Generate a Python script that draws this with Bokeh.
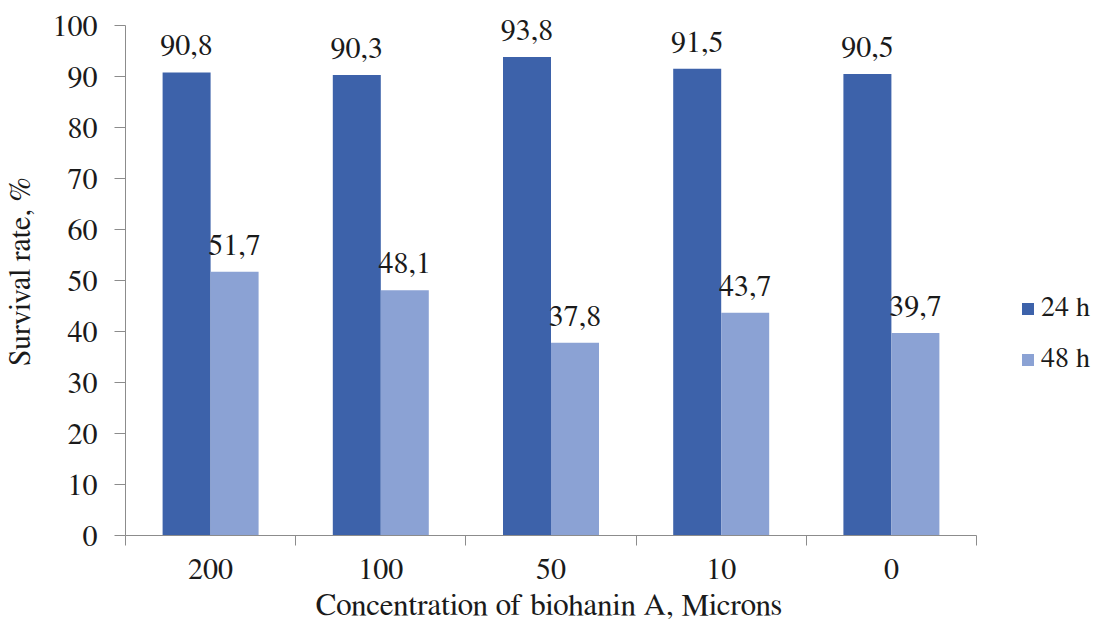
from bokeh.plotting import figure
from bokeh.models import (ColumnDataSource, FixedTicker, Legend, LegendItem,
                          Range1d, Title)
from bokeh.core.properties import value
from bokeh.transform import dodge
from bokeh.embed import file_html
from bokeh.resources import INLINE

# Survival rate after treatment with biohanin A
concentrations = ["200", "100", "50", "10", "0"]
survival_24h = [90.8, 90.3, 93.8, 91.5, 90.5]
survival_48h = [51.7, 48.1, 37.8, 43.7, 39.7]
y_ticks = [0, 10, 20, 30, 40, 50, 60, 70, 80, 90, 100]

DARK = "#3D62AA"
LIGHT = "#8BA2D4"
AXIS = "#8C8C8C"
INK = "#1a1a1a"
FONT = "FreeSerif"
FS = "30px"

n = len(concentrations)
pos = [i + 0.5 for i in range(n)]
src = ColumnDataSource(dict(
    x=pos,
    h24=survival_24h,
    h48=survival_48h,
    t24=[f"{v:.1f}".replace(".", ",") for v in survival_24h],
    t48=[f"{v:.1f}".replace(".", ",") for v in survival_48h],
))

# the frame runs to the right and top edges so the legend and the value
# labels fit inside it; both axes are bounded to the data span
LEFT, AXIS_W, FRAME_W = 125, 851, 978
AXIS_H, FRAME_H = 510, 535
p = figure(width=1103, height=635, output_backend="svg", toolbar_location=None,
           x_range=Range1d(0, n * FRAME_W / AXIS_W),
           y_range=Range1d(0, 100 * FRAME_H / AXIS_H),
           min_border_left=LEFT, min_border_right=0,
           min_border_top=0, min_border_bottom=100)
p.outline_line_color = None
p.grid.visible = False
p.background_fill_color = "white"
p.border_fill_color = "white"

bw = 0.282
r24 = p.vbar(x=dodge("x", -bw / 2), top="h24", width=bw, bottom=0, source=src,
             fill_color=DARK, line_color=None)
r48 = p.vbar(x=dodge("x", bw / 2), top="h48", width=bw, bottom=0, source=src,
             fill_color=LIGHT, line_color=None)

# value labels above the bars
for col, txt, off in (("h24", "t24", -bw / 2), ("h48", "t48", bw / 2)):
    p.text(x=dodge("x", off), y=col, text=txt, source=src,
           text_align="center", text_baseline="alphabetic", y_offset=-27,
           text_font=value(FONT), text_font_size=FS, text_color=INK)

# x axis: labels at category centres, ticks between categories
xa = p.xaxis[0]
xa.bounds = (0, n)
xa.ticker = FixedTicker(ticks=pos, minor_ticks=list(range(n + 1)))
xa.major_label_overrides = {v: c for v, c in zip(pos, concentrations)}
xa.major_tick_out = 0
xa.major_tick_in = 0
xa.minor_tick_out = 10
xa.minor_tick_in = 0
xa.minor_tick_line_color = AXIS
xa.axis_line_color = AXIS
xa.major_label_standoff = 13
xa.major_label_text_font = FONT
xa.major_label_text_font_size = FS
xa.major_label_text_color = INK

# x axis title, centred under the category span
p.add_layout(Title(text="Concentration  of biohanin  A, Microns",
                   align="left", offset=190, standoff=12,
                   text_font=FONT, text_font_size="31px",
                   text_font_style="normal", text_color=INK), "below")

ya = p.yaxis[0]
ya.bounds = (0, 100)
ya.ticker = FixedTicker(ticks=y_ticks)
ya.minor_tick_line_color = None
ya.major_tick_out = 11
ya.major_tick_in = 0
ya.major_tick_line_color = AXIS
ya.axis_line_color = AXIS
ya.major_label_standoff = 17
ya.major_label_text_font = FONT
ya.major_label_text_font_size = FS
ya.major_label_text_color = INK
ya.axis_label = "Survival  rate, %"
ya.axis_label_text_font = FONT
ya.axis_label_text_font_size = FS
ya.axis_label_text_font_style = "normal"
ya.axis_label_text_color = INK
ya.axis_label_standoff = 14

legend = Legend(items=[LegendItem(label="24 h", renderers=[r24]),
                       LegendItem(label="48 h", renderers=[r48])],
                location=(895, 160), orientation="vertical",
                border_line_color=None, background_fill_alpha=0,
                glyph_width=15, glyph_height=15, label_standoff=6,
                spacing=20, padding=0, margin=0,
                label_text_font=FONT, label_text_font_size="28px",
                label_text_color=INK)
p.add_layout(legend)

open("out.html", "w").write(file_html(p, INLINE))
